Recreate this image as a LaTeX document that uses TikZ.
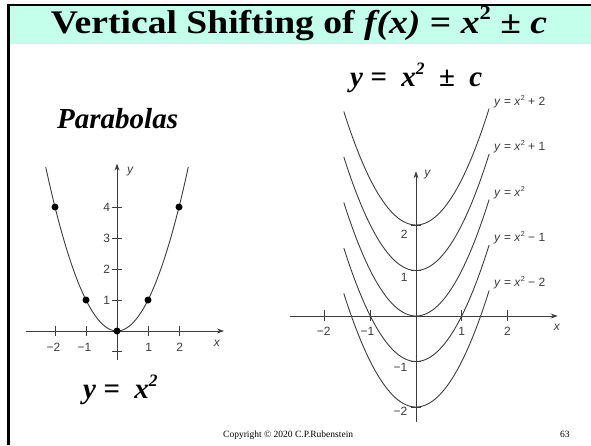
\documentclass[tikz,border=0pt]{standalone}
\usepackage{fontspec}
\setmainfont{Liberation Serif}
\setsansfont{Liberation Sans}
\usetikzlibrary{arrows.meta}
\definecolor{titlebg}{RGB}{196,255,236}
\definecolor{plotgray}{RGB}{60,60,60}
\newcommand\supx[1]{\raisebox{0.4em}{\scalebox{0.6}{#1}}}
\begin{document}
\begin{tikzpicture}[x=1pt,y=-1pt,
 curve/.style={plotgray, line width=0.9pt},
 axisline/.style={plotgray, line width=0.9pt, -{Stealth[length=7pt,width=5pt]}},
 tickline/.style={plotgray, line width=0.9pt},
 ticklab/.style={font=\sffamily\fontsize{12}{12}\selectfont, text=plotgray, inner sep=0pt},
 curvelab/.style={font=\sffamily\fontsize{12}{12}\selectfont, text=plotgray, inner sep=0pt, anchor=west},
 dot/.style={circle, fill=black, inner sep=0pt, minimum size=7pt},
 bigmath/.style={font=\fontsize{29}{29}\selectfont\bfseries\itshape, inner sep=0pt},
]
\useasboundingbox (0,0) rectangle (591,445);
\fill[titlebg] (8,5) rectangle (591,44);
\draw[line width=2pt] (7,5) -- (591,5);
\draw[line width=3pt] (8,4) -- (8,445);
\node[font=\fontsize{33}{33}\selectfont\bfseries, inner sep=0pt, anchor=base] (title) at (299,33)
  {\scalebox{1.14}[1]{Vertical Shifting of \textit{f(x)} = \textit{x}\supx{2} ± \textit{c}}};

\node[bigmath, anchor=base west] (parab) at (57,128) {Parabolas};
\node[bigmath, anchor=base west] (eqright) at (350,86) {y =\ \ x\supx{2}\ \ ±\ \ c};
\node[bigmath, anchor=base west] (eqleft) at (83,398) {y =\ \ x\supx{2}};

% left graph
\begin{scope}[shift={(117pt,-331pt)}, x=31pt, y=31pt]
  \draw[axisline] (-2.95,0) -- (3.45,0);
  \draw[axisline] (0,-0.95) -- (0,5.4);
  \foreach \i in {-2,-1,1,2} \draw[tickline] (\i,-0.16) -- (\i,0.16);
  \foreach \j in {1,2,3,4} \draw[tickline] (-0.16,\j) -- (0.16,\j);
  \draw[tickline] (-0.16,-0.65) -- (0.16,-0.65);
  \draw[curve, domain=-2.3:2.3, samples=80, smooth] plot (\x,{\x*\x});
  \foreach \p/\q [count=\k] in {-2/4,-1/1,0/0,1/1,2/4} \node[dot] (ld\k) at (\p,\q) {};
  \foreach \j in {1,2,3,4} \node[ticklab, anchor=east] (ly\j) at (-0.22,\j) {\j};
  \node[ticklab] (lxm2) at (-2.05,-0.52) {−2};
  \node[ticklab] (lxm1) at (-1.05,-0.52) {−1};
  \node[ticklab] (lx1) at (1.02,-0.52) {1};
  \node[ticklab] (lx2) at (2.02,-0.52) {2};
  \node[ticklab, font=\sffamily\itshape\fontsize{12}{12}\selectfont] (lxl) at (3.22,-0.4) {x};
  \node[ticklab, font=\sffamily\itshape\fontsize{12}{12}\selectfont] (lyl) at (0.42,5.15) {y};
\end{scope}

% right graph
\begin{scope}[shift={(416pt,-316pt)}, x=45.7pt, y=45.5pt]
  \draw[axisline] (-2.76,0) -- (3.1,0);
  \draw[axisline] (0,-2.33) -- (0,3.18);
  \foreach \i in {-2,-1,1,2} \draw[tickline] (\i,-0.1) -- (\i,0.14);
  \foreach \j in {-2,-1,1,2} \draw[tickline] (-0.11,\j) -- (0.11,\j);
  \foreach \c in {2,1,0,-1,-2}
    \draw[curve, domain=-1.58:1.6, samples=60, smooth] plot (\x,{\x*\x+\c});
  \node[ticklab] (ry2) at (-0.26,1.8) {2};
  \node[ticklab] (ry1) at (-0.26,0.84) {1};
  \node[ticklab] (rym1) at (-0.34,-1.13) {−1};
  \node[ticklab] (rym2) at (-0.34,-2.1) {−2};
  \node[ticklab] (rxm2) at (-2.02,-0.34) {−2};
  \node[ticklab] (rxm1) at (-1.06,-0.34) {−1};
  \node[ticklab] (rx1) at (1.0,-0.34) {1};
  \node[ticklab] (rx2) at (2.0,-0.34) {2};
  \node[ticklab, font=\sffamily\itshape\fontsize{12}{12}\selectfont] (rxl) at (3.08,-0.24) {x};
  \node[ticklab, font=\sffamily\itshape\fontsize{12}{12}\selectfont] (ryl) at (0.25,3.1) {y};
\end{scope}

\node[curvelab] (c2) at (494,102) {\textit{y} = \textit{x}\supx{2} + 2};
\node[curvelab] (c1) at (494,147) {\textit{y} = \textit{x}\supx{2} + 1};
\node[curvelab] (c0) at (494,193) {\textit{y} = \textit{x}\supx{2}};
\node[curvelab] (cm1) at (494,238) {\textit{y} = \textit{x}\supx{2} − 1};
\node[curvelab] (cm2) at (494,283) {\textit{y} = \textit{x}\supx{2} − 2};

\node[font=\fontsize{9.5}{9.5}\selectfont, inner sep=0pt, anchor=base west] (copy) at (223,437) {Copyright © 2020 C.P.Rubenstein};
\node[font=\fontsize{9.5}{9.5}\selectfont, inner sep=0pt, anchor=base west] (page) at (560,437) {63};
\end{tikzpicture}
\end{document}
